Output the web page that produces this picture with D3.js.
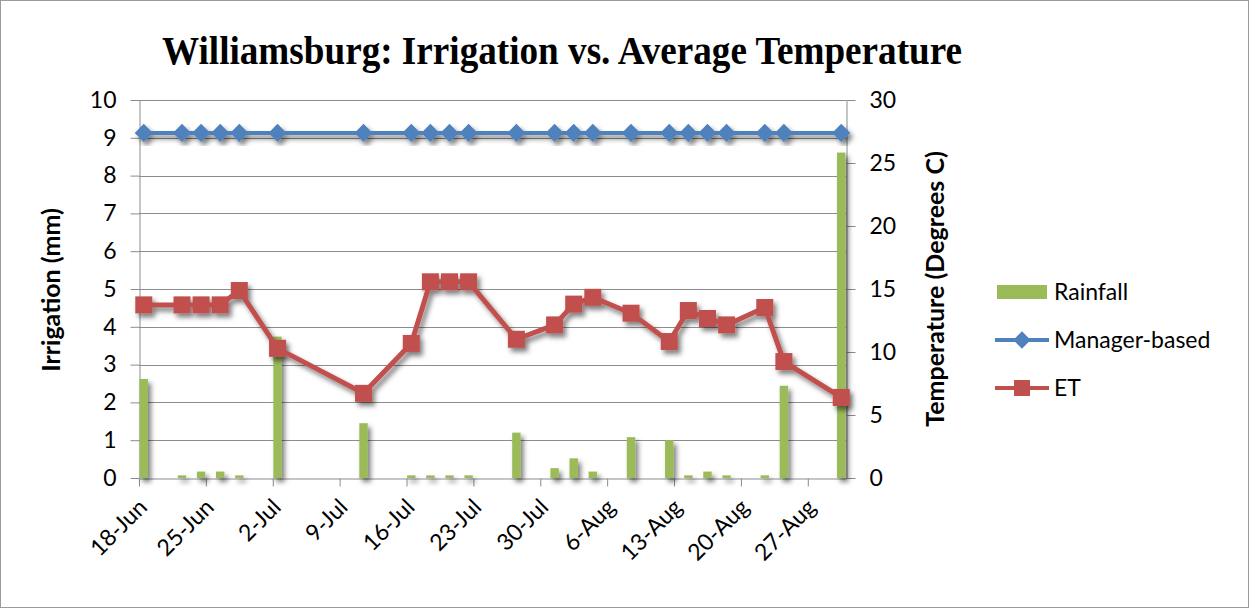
<!DOCTYPE html>
<html>
<head>
<meta charset="utf-8">
<script src="https://cdn.jsdelivr.net/npm/d3@7/dist/d3.min.js"></script>
<style>
  body { margin: 0; background: #fff; }
  text { font-family: Lato, "Open Sans", sans-serif; fill: #000; }
</style>
</head>
<body>
<svg id="chart" width="1249" height="608"></svg>
<script>
// dates of the observations (year not shown on chart)
const dates = ["18-Jun", "22-Jun", "24-Jun", "26-Jun", "28-Jun", "2-Jul", "11-Jul", "16-Jul",
  "18-Jul", "20-Jul", "22-Jul", "27-Jul", "31-Jul", "2-Aug", "4-Aug", "8-Aug", "12-Aug",
  "14-Aug", "16-Aug", "18-Aug", "22-Aug", "24-Aug", "30-Aug"];
const rainfall = [2.62, 0.07, 0.17, 0.17, 0.07, 3.74, 1.45, 0.07, 0.07, 0.07, 0.07, 1.2,
  0.26, 0.52, 0.17, 1.08, 1.0, 0.07, 0.17, 0.07, 0.07, 2.44, 8.61];
const managerBased = [9.13, 9.13, 9.13, 9.13, 9.13, 9.13, 9.13, 9.13, 9.13, 9.13, 9.13, 9.13,
  9.13, 9.13, 9.13, 9.13, 9.13, 9.13, 9.13, 9.13, 9.13, 9.13, 9.13];
const et = [4.58, 4.58, 4.58, 4.58, 4.96, 3.43, 2.24, 3.56, 5.19, 5.19, 5.19, 3.67, 4.05,
  4.60, 4.78, 4.36, 3.61, 4.43, 4.22, 4.05, 4.51, 3.08, 2.13];
const xTickLabels = ["18-Jun", "25-Jun", "2-Jul", "9-Jul", "16-Jul", "23-Jul", "30-Jul",
  "6-Aug", "13-Aug", "20-Aug", "27-Aug"];
const xDomain = ["18-Jun", "31-Aug"];
const irrigationTicks = [0, 1, 2, 3, 4, 5, 6, 7, 8, 9, 10];
const temperatureTicks = [0, 5, 10, 15, 20, 25, 30];

const W = 1249, H = 608;
const plot = { left: 139, right: 846, top: 100, bottom: 478 };
const parse = d3.timeParse("%d-%b");
const fmt = d3.timeFormat("%-d-%b");

const svg = d3.select("#chart");

// outer border
svg.append("rect")
  .attr("x", 0.5).attr("y", 0.5).attr("width", W - 1).attr("height", H - 1)
  .attr("fill", "#fff").attr("stroke", "#9a9a9a");

// shadow
const defs = svg.append("defs");
const shadow = defs.append("filter").attr("id", "shadow")
  .attr("x", "-20%").attr("y", "-20%").attr("width", "140%").attr("height", "140%");
shadow.append("feDropShadow")
  .attr("dx", 3).attr("dy", 4).attr("stdDeviation", 2.5)
  .attr("flood-color", "#000").attr("flood-opacity", 0.5);

const x = d3.scaleTime()
  .domain(xDomain.map(parse))
  .range([plot.left, plot.right]);
const y = d3.scaleLinear().domain([0, 10]).range([plot.bottom, plot.top]);
const yR = d3.scaleLinear().domain([0, 30]).range([plot.bottom, plot.top]);

const data = dates.map((d, i) => ({
  date: parse(d),
  mid: d3.timeHour.offset(parse(d), 12),
  rain: rainfall[i],
  mgr: managerBased[i],
  et: et[i]
}));
const dayW = x(parse("19-Jun")) - x(parse("18-Jun"));
const barW = dayW * 0.88;

// gridlines
svg.append("g")
  .selectAll("line")
  .data(irrigationTicks.filter(t => t > 0))
  .join("line")
  .attr("x1", plot.left).attr("x2", plot.right)
  .attr("y1", d => Math.round(y(d)) + 0.5).attr("y2", d => Math.round(y(d)) + 0.5)
  .attr("stroke", "#8c8c8c").attr("stroke-width", 1);

// left axis
const left = svg.append("g")
  .attr("transform", `translate(${plot.left + 0.5},0)`)
  .call(d3.axisLeft(y).tickValues(irrigationTicks).tickSize(9).tickPadding(14).tickSizeOuter(0));
left.selectAll("path, line").attr("stroke", "#8c8c8c");
left.selectAll("text").style("font-size", "23px").style("font-family", "Lato");

// right axis
const right = svg.append("g")
  .attr("transform", `translate(${plot.right + 0.5},0)`)
  .call(d3.axisRight(yR).tickValues(temperatureTicks).tickSize(9).tickPadding(14).tickSizeOuter(0));
right.selectAll("path, line").attr("stroke", "#8c8c8c");
right.selectAll("text").style("font-size", "23px").style("font-family", "Lato");

// bottom axis
const tickDates = xTickLabels.map(parse);
const bottom = svg.append("g")
  .attr("transform", `translate(0,${plot.bottom + 0.5})`)
  .call(d3.axisBottom(x).tickValues(tickDates).tickSize(8).tickSizeOuter(0).tickFormat(""));
bottom.selectAll("path, line").attr("stroke", "#8c8c8c");

svg.append("g")
  .selectAll("text")
  .data(tickDates)
  .join("text")
  .attr("text-anchor", "end")
  .attr("dy", "0.35em")
  .attr("transform", d => `translate(${x(d) + dayW / 2 - 1},${plot.bottom + 25}) rotate(-45)`)
  .style("font-size", "23px")
  .text(d => fmt(d));

// rainfall bars
svg.append("g")
  .attr("filter", "url(#shadow)")
  .selectAll("rect")
  .data(data)
  .join("rect")
  .attr("x", d => x(d.mid) - barW / 2)
  .attr("width", barW)
  .attr("y", d => y(d.rain))
  .attr("height", d => y(0) - y(d.rain))
  .attr("fill", "#9bbb59");

// lines
const line = key => d3.line().x(d => x(d.mid)).y(d => y(d[key]));

const mgrG = svg.append("g").attr("filter", "url(#shadow)");
mgrG.append("path")
  .datum(data)
  .attr("fill", "none").attr("stroke", "#4f81bd").attr("stroke-width", 4)
  .attr("stroke-linejoin", "round")
  .attr("d", line("mgr"));
mgrG.selectAll("path.m")
  .data(data)
  .join("path")
  .attr("class", "m")
  .attr("d", d3.symbol().type(d3.symbolDiamond2).size(210))
  .attr("transform", d => `translate(${x(d.mid)},${y(d.mgr)})`)
  .attr("fill", "#4f81bd");

const etG = svg.append("g").attr("filter", "url(#shadow)");
etG.append("path")
  .datum(data)
  .attr("fill", "none").attr("stroke", "#c0504d").attr("stroke-width", 5)
  .attr("stroke-linejoin", "round")
  .attr("d", line("et"));
etG.selectAll("rect")
  .data(data)
  .join("rect")
  .attr("x", d => x(d.mid) - 8.5).attr("y", d => y(d.et) - 8.5)
  .attr("width", 17).attr("height", 17)
  .attr("fill", "#c0504d");

// title
svg.append("text")
  .attr("x", 562).attr("y", 64)
  .attr("text-anchor", "middle")
  .attr("textLength", 800).attr("lengthAdjust", "spacingAndGlyphs")
  .style("font-family", "'Liberation Serif', 'Times New Roman', serif")
  .style("font-weight", "bold").style("font-size", "41px")
  .text("Williamsburg: Irrigation vs. Average Temperature");

// axis titles
svg.append("text")
  .attr("transform", "translate(60,290) rotate(-90)")
  .attr("text-anchor", "middle")
  .style("font-weight", "bold").style("font-size", "25px")
  .text("Irrigation (mm)");
svg.append("text")
  .attr("transform", "translate(944,289) rotate(-90)")
  .attr("text-anchor", "middle")
  .style("font-weight", "bold").style("font-size", "25px")
  .text("Temperature (Degrees C)");

// legend
const lg = svg.append("g");
lg.append("rect").attr("x", 997).attr("y", 285).attr("width", 50).attr("height", 14).attr("fill", "#9bbb59");
lg.append("text").attr("x", 1054).attr("y", 300).style("font-size", "23px").text("Rainfall");
lg.append("line").attr("x1", 995).attr("x2", 1049).attr("y1", 340).attr("y2", 340)
  .attr("stroke", "#4f81bd").attr("stroke-width", 4);
lg.append("path").attr("d", d3.symbol().type(d3.symbolDiamond2).size(190))
  .attr("transform", "translate(1022,340)").attr("fill", "#4f81bd");
lg.append("text").attr("x", 1054).attr("y", 348).style("font-size", "23px").text("Manager-based");
lg.append("line").attr("x1", 995).attr("x2", 1049).attr("y1", 388).attr("y2", 388)
  .attr("stroke", "#c0504d").attr("stroke-width", 4);
lg.append("rect").attr("x", 1014).attr("y", 380).attr("width", 16).attr("height", 16).attr("fill", "#c0504d");
lg.append("text").attr("x", 1054).attr("y", 396).style("font-size", "23px").text("ET");
</script>
</body>
</html>
